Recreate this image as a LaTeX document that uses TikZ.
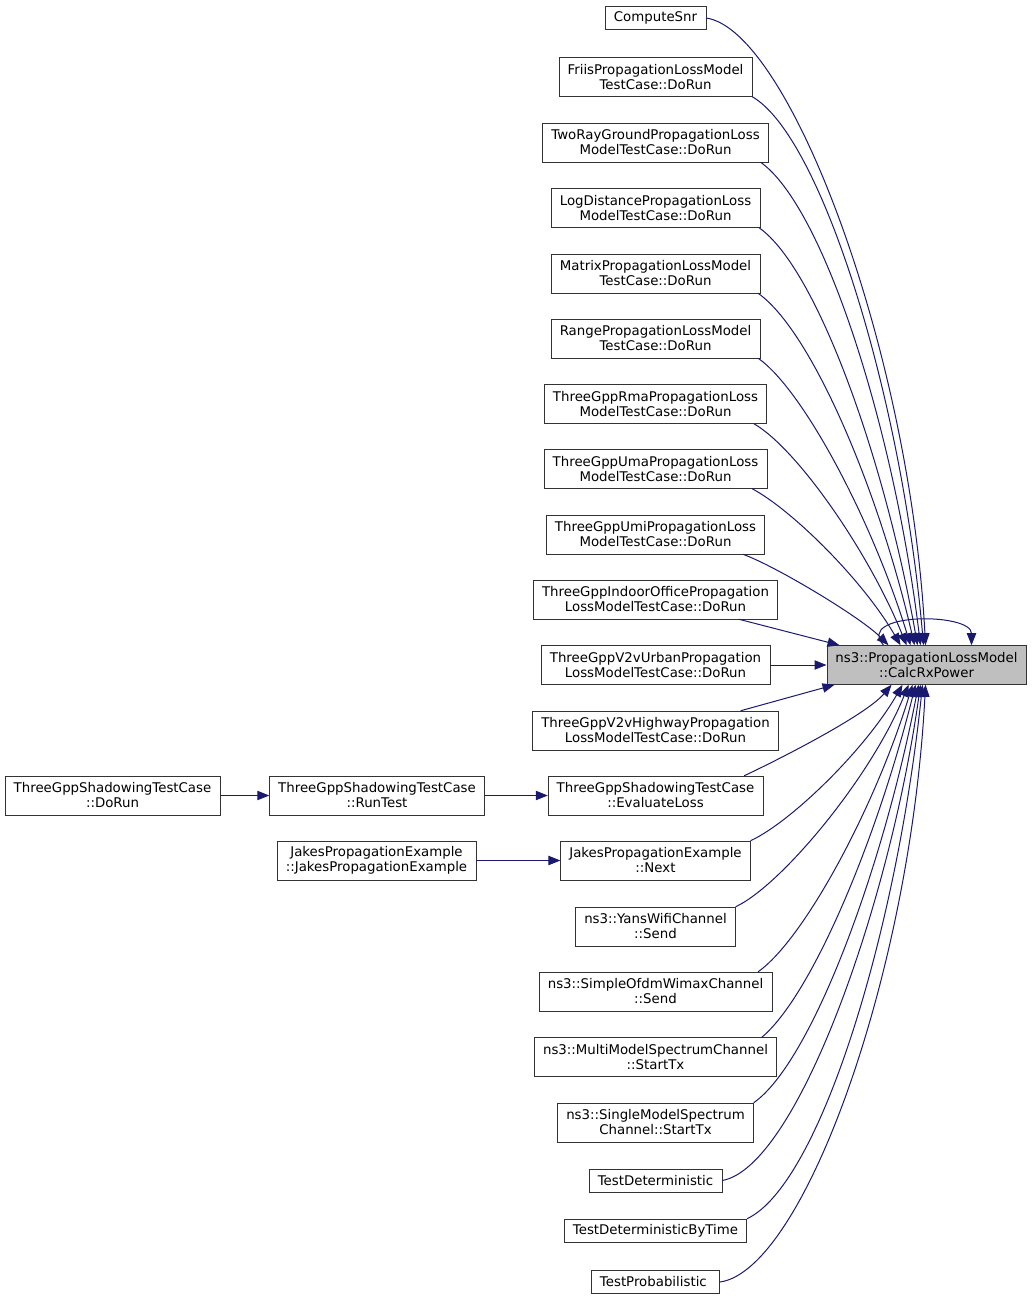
\documentclass[tikz,border=0pt]{standalone}
\usepackage{fontspec}
\setmainfont{DejaVu Sans}
\usetikzlibrary{arrows.meta}

\tikzset{%
  >={Triangle[length=9pt,width=7pt]}
}

\newdimen\pxu
\pxu=0.75pt

\begin{document}
\begin{tikzpicture}[x=0.75pt,y=-0.75pt,
    box/.style={draw=black!80,fill=white,inner xsep=6.5pt,inner ysep=0pt,
      align=center,font=\fontsize{10pt}{11.25pt}\selectfont},
    oneline/.style={box,minimum height=17.25pt},
    twoline/.style={box,minimum height=29.25pt},
    edge/.style={->,draw=edgeblue,line width=0.75pt}]
  \definecolor{edgeblue}{RGB}{25,25,112}
  \useasboundingbox (0,0) rectangle (1032,1301);

  % the function that is called
  \node[twoline,fill=black!25] (calc) at (926.5,665) {ns3::PropagationLossModel\\::CalcRxPower};

  % callers, one line
  \foreach \nm/\x/\y/\la in
    { snr/655.5/18/ComputeSnr,
      tdet/655.5/1180.5/TestDeterministic,
      tdettime/655.5/1230.5/TestDeterministicByTime,
      tprob/655.5/1282/TestProbabilistic
    }
    \node[oneline] (\nm) at (\x,\y) {\la};

  % callers, two lines
  \foreach \nm/\x/\y/\la/\lb in
    { friis/655.5/77/FriisPropagationLossModel/TestCase::DoRun,
      tworay/655.5/142.5/TwoRayGroundPropagationLoss/ModelTestCase::DoRun,
      logdist/655.5/208/LogDistancePropagationLoss/ModelTestCase::DoRun,
      matrix/655.5/273.5/MatrixPropagationLossModel/TestCase::DoRun,
      range/655.5/338.5/RangePropagationLossModel/TestCase::DoRun,
      rma/655.5/404/ThreeGppRmaPropagationLoss/ModelTestCase::DoRun,
      uma/655.5/469/ThreeGppUmaPropagationLoss/ModelTestCase::DoRun,
      umi/655.5/534.5/ThreeGppUmiPropagationLoss/ModelTestCase::DoRun,
      indoor/655.5/599.5/ThreeGppIndoorOfficePropagation/LossModelTestCase::DoRun,
      vurban/655.5/665/ThreeGppV2vUrbanPropagation/LossModelTestCase::DoRun,
      vhighway/655.5/730.5/ThreeGppV2vHighwayPropagation/LossModelTestCase::DoRun,
      evalloss/655.5/795.5/ThreeGppShadowingTestCase/::EvaluateLoss,
      jnext/655.5/860.5/JakesPropagationExample/::Next,
      yans/655.5/926.5/ns3::YansWifiChannel/::Send,
      ofdm/655.5/991.5/ns3::SimpleOfdmWimaxChannel/::Send,
      multi/655.5/1057/ns3::MultiModelSpectrumChannel/::StartTx,
      single/655.5/1122.5/ns3::SingleModelSpectrum/Channel::StartTx,
      shdorun/112.5/795.5/ThreeGppShadowingTestCase/::DoRun,
      runtest/377/795.5/ThreeGppShadowingTestCase/::RunTest,
      jakes/376.5/860.5/JakesPropagationExample/::JakesPropagationExample
    }
    \node[twoline] (\nm) at (\x,\y) {\la\\\lb};

  % calls into the top of calc
  \foreach \s/\a/\k/\o/\od/\e/\i/\id in
    { snr/east/0/-8/84/99/93/295,
      friis/south east/0/-30/80/97/95/250,
      tworay/south east/8/-35/75/94/97/225,
      logdist/south east/1/-35/70/91/100/190,
      matrix/south east/2/-35/65/88/103/160,
      range/south east/2/-35/55/84/107/130,
      rma/south east/13/-30/50/80/112/100,
      uma/south east/15/-28/45/74/120/75,
      umi/south east/22/-20/35/62/135/40
    }
    \draw[edge] ([xshift=-\k\pxu]\s.\a)
      to[out=\o,in=\i,out distance=\od\pxu,in distance=\id\pxu] ([xshift=\e\pxu]calc.north west);

  % calls into the bottom of calc
  \foreach \s/\a/\k/\o/\od/\e/\i/\id in
    { evalloss/north east/19/25/35/65/-130/40,
      jnext/north east/0/25/45/76/-120/75,
      yans/north east/0/25/50/82/-112/100,
      ofdm/north east/14/35/55/86/-107/130,
      multi/north east/15/40/65/89/-104/160,
      single/north east/0/35/70/92/-101/190,
      tdet/east/0/10/75/94/-98/225,
      tdettime/north east/0/25/80/96/-96/250,
      tprob/east/0/8/84/99/-93/290
    }
    \draw[edge] ([xshift=-\k\pxu]\s.\a)
      to[out=\o,in=\i,out distance=\od\pxu,in distance=\id\pxu] ([xshift=\e\pxu]calc.south west);

  % nearly straight ones
  \draw[edge] ([xshift=-39\pxu]indoor.south east) -- ([xshift=13\pxu]calc.north west);
  \draw[edge] (vurban.east) -- (calc.west);
  \draw[edge] ([xshift=-38\pxu]vhighway.north east) -- ([xshift=8\pxu]calc.south west);

  % calc calls itself
  \draw[edge] ([xshift=57\pxu]calc.north west) .. controls +(-29\pxu,33\pxu) and +(0,33\pxu) .. ([xshift=145\pxu]calc.north west);

  % left part
  \draw[edge] (shdorun) -- (runtest);
  \draw[edge] (runtest) -- (evalloss);
  \draw[edge] (jakes) -- (jnext);
\end{tikzpicture}
\end{document}
